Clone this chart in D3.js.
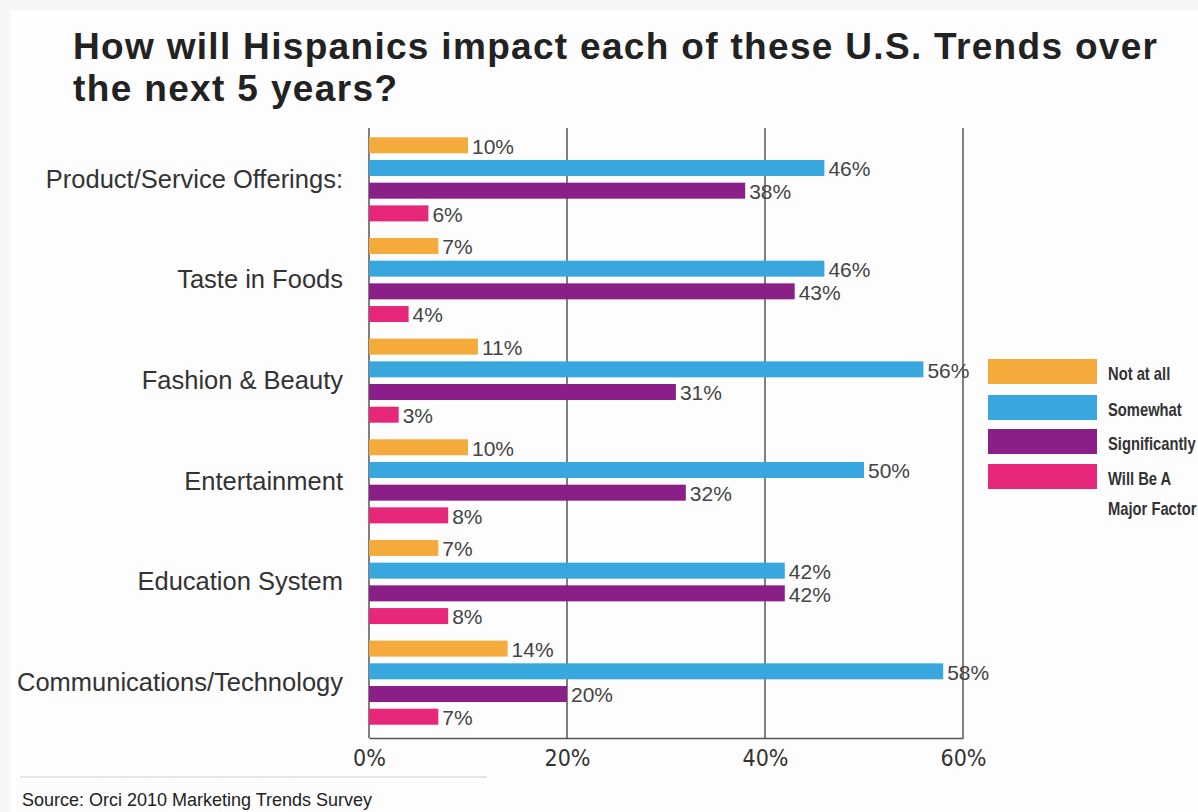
<!DOCTYPE html>
<html><head><meta charset="utf-8">
<script src="https://cdn.jsdelivr.net/npm/d3@7"></script>
<style>
html,body{margin:0;padding:0;background:#fff;}
svg{display:block;}
</style></head>
<body>
<script>
const categories = ["Product/Service Offerings:", "Taste in Foods", "Fashion & Beauty", "Entertainment", "Education System", "Communications/Technology"];
const seriesNames = ["Not at all", "Somewhat", "Significantly", "Will Be A Major Factor"];
const notAtAll      = [10, 7, 11, 10, 7, 14];
const somewhat      = [46, 46, 56, 50, 42, 58];
const significantly = [38, 43, 31, 32, 42, 20];
const majorFactor   = [6, 4, 3, 8, 8, 7];
const tickValues = [0, 20, 40, 60];
const colors = ["#F5AB3C", "#38A7DE", "#8A1F88", "#E7287A"];

const series = [notAtAll, somewhat, significantly, majorFactor];
const W = 1198, H = 812;
const svg = d3.select("body").append("svg").attr("width", W).attr("height", H);

svg.append("rect").attr("width", W).attr("height", H).attr("fill", "#f6f6f6");
svg.append("rect").attr("x", 10).attr("y", 10).attr("width", W - 10).attr("height", H - 10).attr("fill", "#fdfdfd");

const x = d3.scaleLinear().domain([0, 60]).range([369, 963]);
const y0 = d3.scaleBand().domain(categories).range([129, 733]).paddingInner(0).paddingOuter(0);
const y1 = d3.scaleBand().domain(d3.range(4)).range([0, y0.bandwidth()]).paddingInner(0.295).paddingOuter(0.365);

const axisBottomY = 738;
const sans = "'Liberation Sans', Arial, Helvetica, sans-serif";

// Title
const title = svg.append("text").attr("font-family", sans)
  .attr("font-weight", "bold").attr("font-size", 37).attr("fill", "#222");
title.append("tspan").attr("x", 73).attr("y", 59)
  .attr("textLength", 1084).attr("lengthAdjust", "spacing")
  .text("How will Hispanics impact each of these U.S. Trends over");
title.append("tspan").attr("x", 73).attr("y", 101)
  .attr("textLength", 324).attr("lengthAdjust", "spacing")
  .text("the next 5 years?");

// gridlines
svg.append("g").selectAll("line").data(tickValues).join("line")
  .attr("x1", d => x(d)).attr("x2", d => x(d))
  .attr("y1", 128).attr("y2", axisBottomY)
  .attr("stroke", "#555").attr("stroke-width", 1.5);

// bottom axis
const xAxis = d3.axisBottom(x).tickValues(tickValues).tickFormat(d => d + "%").tickSize(0).tickPadding(7);
const gx = svg.append("g").attr("transform", `translate(0,${axisBottomY})`).call(xAxis);
gx.select(".domain").attr("stroke", "#555").attr("stroke-width", 1.5);
gx.selectAll("text").attr("font-family", "'DejaVu Sans Condensed', 'Liberation Sans Narrow', sans-serif")
  .attr("font-size", 23).attr("fill", "#333").attr("dy", "0.9em");

// bars
const groups = svg.append("g").selectAll("g").data(categories).join("g")
  .attr("transform", d => `translate(0,${y0(d)})`);

groups.selectAll("rect").data((c, i) => series.map((s, k) => ({k, v: s[i]}))).join("rect")
  .attr("x", x(0)).attr("y", d => y1(d.k))
  .attr("width", d => x(d.v) - x(0)).attr("height", y1.bandwidth())
  .attr("fill", d => colors[d.k]);

groups.selectAll("text.val").data((c, i) => series.map((s, k) => ({k, v: s[i]}))).join("text")
  .attr("class", "val")
  .attr("x", d => x(d.v) + 4).attr("y", d => y1(d.k) + y1.bandwidth() / 2 + 1)
  .attr("dy", "0.35em")
  .attr("font-family", sans).attr("font-size", 21).attr("fill", "#444")
  .text(d => d.v + "%");

// category labels
const yAxis = d3.axisLeft(y0).tickSize(0).tickPadding(26);
const gy = svg.append("g").attr("transform", `translate(${x(0)},0)`).call(yAxis);
gy.select(".domain").remove();
gy.selectAll("text").attr("font-family", sans)
  .attr("font-size", 25.5).attr("fill", "#333");

// legend
const legend = svg.append("g");
const legY = [359, 395, 429, 464];
legend.selectAll("rect").data(seriesNames).join("rect")
  .attr("x", 988).attr("y", (d, i) => legY[i]).attr("width", 109).attr("height", 25)
  .attr("fill", (d, i) => colors[i]);
const legX = 1108, sx = 0.82;
const legText = legend.selectAll("text").data(seriesNames).join("text")
  .attr("transform", (d, i) => `translate(${legX},${legY[i] + 21}) scale(${sx},1)`)
  .attr("font-family", sans)
  .attr("font-weight", "bold").attr("font-size", 18).attr("fill", "#333");
legText.each(function(d) {
  const t = d3.select(this);
  if (d === "Will Be A Major Factor") {
    t.append("tspan").attr("x", 0).text("Will Be A");
    t.append("tspan").attr("x", 0).attr("dy", 30).text("Major Factor");
  } else t.text(d);
});

// source
svg.append("line").attr("x1", 20).attr("x2", 487).attr("y1", 777).attr("y2", 777)
  .attr("stroke", "#ddd").attr("stroke-width", 1.5);
svg.append("text").attr("x", 22).attr("y", 806)
  .attr("font-family", sans)
  .attr("font-size", 19).attr("fill", "#222")
  .attr("textLength", 350).attr("lengthAdjust", "spacingAndGlyphs")
  .text("Source: Orci 2010 Marketing Trends Survey");
</script>
</body></html>
